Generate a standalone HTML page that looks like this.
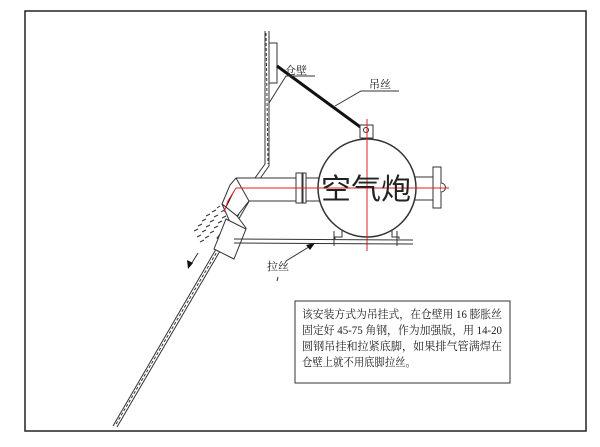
<!DOCTYPE html>
<html><head><meta charset="utf-8"><style>
html,body{margin:0;padding:0;background:#fff;width:600px;height:447px;overflow:hidden}
svg{display:block}
text{font-family:"Liberation Serif","Noto Serif CJK SC",serif;fill:#222}
</style></head><body>
<svg width="600" height="447" viewBox="0 0 600 447" xmlns="http://www.w3.org/2000/svg">
<rect x="25" y="11" width="561" height="420" fill="none" stroke="#222" stroke-width="1.5"/>
<!-- wall -->
<g fill="none" stroke="#333" stroke-width="1">
<polyline points="265,31 265,164 255,178"/>
<polyline points="269,31 269,166 259,180"/>
<line x1="266" y1="33" x2="268" y2="164" stroke-dasharray="3,2"/>
<polyline points="247,196 113,426"/>
<polyline points="251,198 117,427"/>
<line x1="249" y1="197" x2="115" y2="426" stroke-dasharray="3,2"/>
<rect x="269" y="43" width="8" height="40" fill="#fff"/>
</g>
<!-- hanger wire -->
<line x1="277" y1="66" x2="363" y2="129" stroke="#111" stroke-width="3"/>
<rect x="360" y="125" width="13" height="13" fill="#fff" stroke="#333"/>
<circle cx="366" cy="130" r="2.5" fill="none" stroke="#333"/>
<!-- pipe -->
<g fill="#fff" stroke="#333" stroke-width="1">
<polygon points="236,178 299,178 299,201 249,201 237,216 222,204 230,185"/>
<line x1="236" y1="178" x2="249" y2="201"/>
<rect x="303" y="178" width="20" height="23"/>
<rect x="296" y="173" width="6" height="30"/>
<rect x="303" y="173" width="3" height="30"/>
<rect x="414" y="177" width="20" height="23"/>
<rect x="433" y="167" width="8" height="41"/>
<path d="M441 183 a4 4 0 0 1 0 9"/>
<circle cx="367" cy="188" r="49" stroke-width="1.5"/>
<polygon points="222,204 237,216 246,228 232,250 217,238 230,222"/>
</g>
<!-- angled plate -->
<polygon points="226,219 246,229 234,259 214,249" fill="#fff" stroke="#333"/>
<!-- spray -->
<g stroke="#333" stroke-width="1">
<line x1="217" y1="208" x2="220" y2="206"/><line x1="212" y1="212" x2="216" y2="210"/><line x1="221" y1="212" x2="224" y2="210"/>
<line x1="206" y1="216" x2="210" y2="214"/><line x1="214" y1="217" x2="218" y2="215"/><line x1="222" y1="218" x2="226" y2="216"/>
<line x1="202" y1="221" x2="206" y2="219"/><line x1="210" y1="222" x2="214" y2="220"/><line x1="218" y1="223" x2="222" y2="221"/>
<line x1="198" y1="226" x2="202" y2="224"/><line x1="206" y1="227" x2="210" y2="225"/><line x1="214" y1="228" x2="218" y2="226"/>
<line x1="194" y1="231" x2="198" y2="229"/><line x1="202" y1="232" x2="206" y2="230"/><line x1="210" y1="233" x2="214" y2="231"/>
<line x1="197" y1="237" x2="201" y2="235"/><line x1="205" y1="238" x2="209" y2="236"/>
<line x1="200" y1="242" x2="204" y2="240"/>
</g>
<!-- red center lines -->
<g stroke="#d22" stroke-width="1">
<line x1="236" y1="188" x2="449" y2="188"/>
<line x1="367" y1="119" x2="367" y2="251"/>
<polyline points="236,188 228,201 224,212"/>
</g>
<!-- base bar -->
<g stroke="#333" fill="none">
<line x1="234" y1="239" x2="413" y2="240"/>
<line x1="234" y1="243" x2="413" y2="244"/>
<path d="M342 230 v7 h-7 v2 M392 230 v7 h7 v2"/>
<line x1="334" y1="231" x2="334" y2="246"/>
<line x1="397" y1="231" x2="397" y2="246"/>
</g>
<!-- leaders -->
<g stroke="#333" fill="none">
<polyline points="269,103 286,76 315,76"/>
<polyline points="335,106 361,91 399,91"/>
<line x1="286" y1="261" x2="312" y2="245"/>
<line x1="198" y1="253" x2="190" y2="266"/>
</g>
<polygon points="315,243 306,245 310,250" fill="#111"/>
<polygon points="188,269 187,260 193,263" fill="#111"/>
<line x1="278" y1="277" x2="277" y2="281" stroke="#333"/>
<text x="285" y="74" font-size="11">仓壁</text>
<text x="369" y="88" font-size="11">吊丝</text>
<text x="267" y="270" font-size="11">拉丝</text>
<text x="321" y="199" font-size="29" textLength="90" lengthAdjust="spacingAndGlyphs" style="font-family:'Liberation Sans','Noto Sans CJK SC',sans-serif" fill="#111">空气炮</text>
<!-- text box -->
<rect x="295" y="301" width="215" height="82" fill="#fff" stroke="#333" stroke-width="1"/>
<g font-size="11.5">
<text x="302" y="318" textLength="200" lengthAdjust="spacingAndGlyphs">该安装方式为吊挂式，在仓壁用 16 膨胀丝</text>
<text x="302" y="334" textLength="200" lengthAdjust="spacingAndGlyphs">固定好 45-75 角钢，作为加强版，用 14-20</text>
<text x="302" y="350" textLength="200" lengthAdjust="spacingAndGlyphs">圆钢吊挂和拉紧底脚，如果排气管满焊在</text>
<text x="302" y="366" textLength="114" lengthAdjust="spacingAndGlyphs">仓壁上就不用底脚拉丝。</text>
</g>
</svg>
</body></html>
